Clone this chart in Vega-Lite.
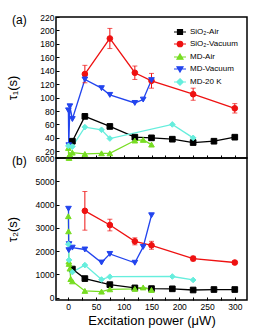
{
  "$schema": "https://vega.github.io/schema/vega-lite/v6.json",
  "padding": {"left": 5, "top": 12, "right": 5, "bottom": 5},
  "bounds": "flush",
  "spacing": 0,
  "config": {
    "font": "Liberation Sans",
    "view": {"stroke": "black", "strokeWidth": 1.5},
    "axis": {"domain": false, "grid": false, "tickColor": "black", "tickSize": -3, "tickWidth": 1, "labelPadding": 5, "labelOverlap": false, "labelFont": "Liberation Sans", "labelFontSize": 8.5, "labelColor": "black", "titleFont": "Liberation Sans", "titleFontSize": 13, "titleFontWeight": "normal", "titleColor": "black", "format": "d"},
    "title": {"font": "Liberation Sans", "fontSize": 12, "fontWeight": "normal", "anchor": "start", "offset": -14, "dx": 6, "color": "black"},
    "legend": {"labelFont": "Liberation Sans", "labelFontSize": 8, "labelColor": "black", "symbolStrokeWidth": 1.2, "symbolSize": 100, "rowPadding": 1, "padding": 0, "labelOffset": 4, "symbolOffset": 0}
  },
  "datasets": {
    "d": [
      {"p": "a", "s": "SiO₂-Air", "x": 7.5, "y": 35},
      {"p": "a", "s": "SiO₂-Air", "x": 30, "y": 72},
      {"p": "a", "s": "SiO₂-Air", "x": 75, "y": 57},
      {"p": "a", "s": "SiO₂-Air", "x": 120, "y": 41},
      {"p": "a", "s": "SiO₂-Air", "x": 150, "y": 40},
      {"p": "a", "s": "SiO₂-Air", "x": 187.5, "y": 38},
      {"p": "a", "s": "SiO₂-Air", "x": 225, "y": 33},
      {"p": "a", "s": "SiO₂-Air", "x": 262.5, "y": 35},
      {"p": "a", "s": "SiO₂-Air", "x": 300, "y": 41},
      {"p": "a", "s": "SiO₂-Vacuum", "x": 30, "y": 135, "lo": 122, "hi": 148},
      {"p": "a", "s": "SiO₂-Vacuum", "x": 75, "y": 188, "lo": 173, "hi": 203},
      {"p": "a", "s": "SiO₂-Vacuum", "x": 120, "y": 137, "lo": 127, "hi": 147},
      {"p": "a", "s": "SiO₂-Vacuum", "x": 150, "y": 125, "lo": 114, "hi": 136},
      {"p": "a", "s": "SiO₂-Vacuum", "x": 225, "y": 105, "lo": 96, "hi": 114},
      {"p": "a", "s": "SiO₂-Vacuum", "x": 300, "y": 84, "lo": 77, "hi": 91},
      {"p": "a", "s": "MD-Air", "x": 0.3, "y": 25},
      {"p": "a", "s": "MD-Air", "x": 0.8, "y": 12},
      {"p": "a", "s": "MD-Air", "x": 1.5, "y": 10},
      {"p": "a", "s": "MD-Air", "x": 3, "y": 15},
      {"p": "a", "s": "MD-Air", "x": 7.5, "y": 18},
      {"p": "a", "s": "MD-Air", "x": 30, "y": 16},
      {"p": "a", "s": "MD-Air", "x": 60, "y": 17},
      {"p": "a", "s": "MD-Air", "x": 75, "y": 17},
      {"p": "a", "s": "MD-Air", "x": 120, "y": 36},
      {"p": "a", "s": "MD-Air", "x": 135, "y": 37},
      {"p": "a", "s": "MD-Air", "x": 150, "y": 30},
      {"p": "a", "s": "MD-Vacuum", "x": 0.3, "y": 81},
      {"p": "a", "s": "MD-Vacuum", "x": 1, "y": 29},
      {"p": "a", "s": "MD-Vacuum", "x": 3, "y": 87},
      {"p": "a", "s": "MD-Vacuum", "x": 7.5, "y": 68},
      {"p": "a", "s": "MD-Vacuum", "x": 30, "y": 127},
      {"p": "a", "s": "MD-Vacuum", "x": 60, "y": 114},
      {"p": "a", "s": "MD-Vacuum", "x": 75, "y": 104},
      {"p": "a", "s": "MD-Vacuum", "x": 120, "y": 92},
      {"p": "a", "s": "MD-Vacuum", "x": 135, "y": 97},
      {"p": "a", "s": "MD-Vacuum", "x": 150, "y": 126},
      {"p": "a", "s": "MD-20 K", "x": 0.3, "y": 28},
      {"p": "a", "s": "MD-20 K", "x": 7.5, "y": 27},
      {"p": "a", "s": "MD-20 K", "x": 30, "y": 56},
      {"p": "a", "s": "MD-20 K", "x": 60, "y": 52},
      {"p": "a", "s": "MD-20 K", "x": 75, "y": 39},
      {"p": "a", "s": "MD-20 K", "x": 187.5, "y": 60},
      {"p": "a", "s": "MD-20 K", "x": 225, "y": 40},
      {"p": "b", "s": "SiO₂-Air", "x": 7.5, "y": 1230},
      {"p": "b", "s": "SiO₂-Air", "x": 30, "y": 820},
      {"p": "b", "s": "SiO₂-Air", "x": 75, "y": 560},
      {"p": "b", "s": "SiO₂-Air", "x": 120, "y": 420},
      {"p": "b", "s": "SiO₂-Air", "x": 150, "y": 390},
      {"p": "b", "s": "SiO₂-Air", "x": 187.5, "y": 380},
      {"p": "b", "s": "SiO₂-Air", "x": 225, "y": 330},
      {"p": "b", "s": "SiO₂-Air", "x": 262.5, "y": 350},
      {"p": "b", "s": "SiO₂-Air", "x": 300, "y": 350},
      {"p": "b", "s": "SiO₂-Vacuum", "x": 30, "y": 3730, "lo": 2900, "hi": 4560},
      {"p": "b", "s": "SiO₂-Vacuum", "x": 75, "y": 3120, "lo": 2870, "hi": 3370},
      {"p": "b", "s": "SiO₂-Vacuum", "x": 120, "y": 2420, "lo": 2270, "hi": 2570},
      {"p": "b", "s": "SiO₂-Vacuum", "x": 150, "y": 2250, "lo": 2080, "hi": 2420},
      {"p": "b", "s": "SiO₂-Vacuum", "x": 225, "y": 1680, "lo": 1580, "hi": 1780},
      {"p": "b", "s": "SiO₂-Vacuum", "x": 300, "y": 1510, "lo": 1450, "hi": 1570},
      {"p": "b", "s": "MD-Air", "x": 0.2, "y": 3500},
      {"p": "b", "s": "MD-Air", "x": 0.5, "y": 2850},
      {"p": "b", "s": "MD-Air", "x": 1, "y": 1550},
      {"p": "b", "s": "MD-Air", "x": 1.5, "y": 1450},
      {"p": "b", "s": "MD-Air", "x": 3, "y": 1250},
      {"p": "b", "s": "MD-Air", "x": 4.5, "y": 800},
      {"p": "b", "s": "MD-Air", "x": 7.5, "y": 700},
      {"p": "b", "s": "MD-Air", "x": 30, "y": 290},
      {"p": "b", "s": "MD-Air", "x": 60, "y": 260},
      {"p": "b", "s": "MD-Air", "x": 75, "y": 360},
      {"p": "b", "s": "MD-Air", "x": 120, "y": 380},
      {"p": "b", "s": "MD-Air", "x": 135, "y": 440},
      {"p": "b", "s": "MD-Air", "x": 150, "y": 330},
      {"p": "b", "s": "MD-Vacuum", "x": 0.5, "y": 3820},
      {"p": "b", "s": "MD-Vacuum", "x": 1, "y": 2040},
      {"p": "b", "s": "MD-Vacuum", "x": 1.5, "y": 2300},
      {"p": "b", "s": "MD-Vacuum", "x": 7.5, "y": 2150},
      {"p": "b", "s": "MD-Vacuum", "x": 30, "y": 2070},
      {"p": "b", "s": "MD-Vacuum", "x": 60, "y": 1510},
      {"p": "b", "s": "MD-Vacuum", "x": 75, "y": 1880},
      {"p": "b", "s": "MD-Vacuum", "x": 120, "y": 1500},
      {"p": "b", "s": "MD-Vacuum", "x": 135, "y": 2180},
      {"p": "b", "s": "MD-Vacuum", "x": 150, "y": 3540},
      {"p": "b", "s": "MD-20 K", "x": 0.3, "y": 2300},
      {"p": "b", "s": "MD-20 K", "x": 1.5, "y": 1620},
      {"p": "b", "s": "MD-20 K", "x": 7.5, "y": 1100},
      {"p": "b", "s": "MD-20 K", "x": 30, "y": 1400},
      {"p": "b", "s": "MD-20 K", "x": 60, "y": 780},
      {"p": "b", "s": "MD-20 K", "x": 75, "y": 900},
      {"p": "b", "s": "MD-20 K", "x": 187.5, "y": 910},
      {"p": "b", "s": "MD-20 K", "x": 225, "y": 760}
    ]
  },
  "data": {"name": "d"},
  "resolve": {"scale": {"stroke": "independent", "fill": "independent", "shape": "independent"}, "legend": {"stroke": "independent", "fill": "independent", "shape": "independent"}},
  "vconcat": [
    {
      "width": 191,
      "height": 141,
      "title": {"text": "(a)"},
      "transform": [{"filter": "datum.p === 'a'"}],
      "resolve": {"scale": {"stroke": "independent", "fill": "independent", "shape": "independent"}, "legend": {"stroke": "independent", "fill": "independent", "shape": "independent"}},
      "layer": [
        {
          "mark": {"type": "line", "strokeWidth": 1.3},
          "encoding": {
            "x": {"field": "x", "type": "quantitative", "scale": {"domain": [-22, 322], "nice": false, "zero": false}, "axis": {"values": [0, 25, 50, 75, 100, 125, 150, 175, 200, 225, 250, 275, 300], "labels": false, "title": null}},
            "y": {"field": "y", "type": "quantitative", "scale": {"domain": [10, 220], "nice": false, "zero": false}, "axis": {"values": [20, 40, 60, 80, 100, 120, 140, 160, 180, 200, 220], "labelOverlap": false, "labelBound": false, "titleX": -37}, "title": "τ₁(s)"},
            "stroke": {"field": "s", "type": "nominal", "scale": {"domain": ["SiO₂-Air", "SiO₂-Vacuum", "MD-Air", "MD-Vacuum", "MD-20 K"], "range": ["#000000", "#ee1111", "#77dd22", "#2244ee", "#66eedd"]}, "legend": null}
          }
        },
        {
          "transform": [{"filter": "isValid(datum.lo)"}],
          "mark": {"type": "errorbar", "ticks": true, "color": "#ee1111", "thickness": 1},
          "encoding": {
            "x": {"field": "x", "type": "quantitative", "axis": {"values": [0, 25, 50, 75, 100, 125, 150, 175, 200, 225, 250, 275, 300], "labels": false, "title": null}},
            "y": {"field": "lo", "type": "quantitative", "axis": {"values": [20, 40, 60, 80, 100, 120, 140, 160, 180, 200, 220], "labelOverlap": false, "labelBound": false, "titleX": -37}, "title": "τ₁(s)"},
            "y2": {"field": "hi"}
          }
        },
        {
          "mark": {"type": "point", "filled": true, "size": 32, "opacity": 1, "strokeWidth": 1},
          "encoding": {
            "x": {"field": "x", "type": "quantitative", "axis": {"values": [0, 25, 50, 75, 100, 125, 150, 175, 200, 225, 250, 275, 300], "labels": false, "title": null}},
            "y": {"field": "y", "type": "quantitative", "axis": {"values": [20, 40, 60, 80, 100, 120, 140, 160, 180, 200, 220], "labelOverlap": false, "labelBound": false, "titleX": -37}, "title": "τ₁(s)"},
            "fill": {"field": "s", "type": "nominal", "scale": {"domain": ["SiO₂-Air", "SiO₂-Vacuum", "MD-Air", "MD-Vacuum", "MD-20 K"], "range": ["#000000", "#ee1111", "#77dd22", "#2244ee", "#66eedd"]}, "legend": null},
            "stroke": {"field": "s", "type": "nominal", "scale": {"domain": ["SiO₂-Air", "SiO₂-Vacuum", "MD-Air", "MD-Vacuum", "MD-20 K"], "range": ["#000000", "#ee1111", "#77dd22", "#2244ee", "#66eedd"]}, "legend": null},
            "shape": {"field": "s", "type": "nominal", "scale": {"domain": ["SiO₂-Air", "SiO₂-Vacuum", "MD-Air", "MD-Vacuum", "MD-20 K"], "range": ["square", "circle", "triangle-up", "triangle-down", "diamond"]}, "legend": null}
          }
        },
        {
          "transform": [{"filter": "false"}],
          "mark": {"type": "point", "filled": true, "opacity": 1, "strokeWidth": 1.2},
          "encoding": {
            "x": {"field": "x", "type": "quantitative", "axis": {"values": [0, 25, 50, 75, 100, 125, 150, 175, 200, 225, 250, 275, 300], "labels": false, "title": null}},
            "y": {"field": "y", "type": "quantitative", "axis": {"values": [20, 40, 60, 80, 100, 120, 140, 160, 180, 200, 220], "labelOverlap": false, "labelBound": false, "titleX": -37}, "title": "τ₁(s)"},
            "fill": {"field": "s", "type": "nominal", "scale": {"domain": ["SiO₂-Air", "SiO₂-Vacuum", "MD-Air", "MD-Vacuum", "MD-20 K"], "range": ["#000000", "#ee1111", "#77dd22", "#2244ee", "#66eedd"]}, "legend": {"title": null, "orient": "top-right", "offset": 9}},
            "stroke": {"field": "s", "type": "nominal", "scale": {"domain": ["SiO₂-Air", "SiO₂-Vacuum", "MD-Air", "MD-Vacuum", "MD-20 K"], "range": ["#000000", "#ee1111", "#77dd22", "#2244ee", "#66eedd"]}, "legend": {"title": null, "orient": "top-right", "offset": 9}},
            "shape": {"field": "s", "type": "nominal", "scale": {"domain": ["SiO₂-Air", "SiO₂-Vacuum", "MD-Air", "MD-Vacuum", "MD-20 K"], "range": ["M-1.2,0H1.2M-0.5,-0.5H0.5V0.5H-0.5Z", "M-1.2,0H1.2M-0.55,0A0.55,0.55 0 1,0 0.55,0A0.55,0.55 0 1,0 -0.55,0Z", "M-1.2,0H1.2M0,-0.6L0.6,0.45H-0.6Z", "M-1.2,0H1.2M0,0.6L0.6,-0.45H-0.6Z", "M-1.2,0H1.2M0,-0.65L0.65,0L0,0.65L-0.65,0Z"]}, "legend": {"title": null, "orient": "top-right", "offset": 9}}
          }
        }
      ]
    },
    {
      "width": 191,
      "height": 142,
      "title": {"text": "(b)"},
      "transform": [{"filter": "datum.p === 'b'"}],
      "layer": [
        {
          "mark": {"type": "line", "strokeWidth": 1.3},
          "encoding": {
            "x": {"field": "x", "type": "quantitative", "scale": {"domain": [-22, 322], "nice": false, "zero": false}, "axis": {"values": [0, 25, 50, 75, 100, 125, 150, 175, 200, 225, 250, 275, 300], "labelOverlap": false, "labelExpr": "datum.value % 50 === 0 ? datum.label : ''", "titlePadding": 4}, "title": "Excitation power (μW)"},
            "y": {"field": "y", "type": "quantitative", "scale": {"domain": [-100, 6000], "nice": false, "zero": false}, "axis": {"values": [0, 1000, 2000, 3000, 4000, 5000, 6000], "labelOverlap": false, "labelBound": false, "titleX": -37}, "title": "τ₂(s)"},
            "stroke": {"field": "s", "type": "nominal", "scale": {"domain": ["SiO₂-Air", "SiO₂-Vacuum", "MD-Air", "MD-Vacuum", "MD-20 K"], "range": ["#000000", "#ee1111", "#77dd22", "#2244ee", "#66eedd"]}, "legend": null}
          }
        },
        {
          "transform": [{"filter": "isValid(datum.lo)"}],
          "mark": {"type": "errorbar", "ticks": true, "color": "#ee1111", "thickness": 1},
          "encoding": {
            "x": {"field": "x", "type": "quantitative", "axis": {"values": [0, 25, 50, 75, 100, 125, 150, 175, 200, 225, 250, 275, 300], "labelOverlap": false, "labelExpr": "datum.value % 50 === 0 ? datum.label : ''", "titlePadding": 4}, "title": "Excitation power (μW)"},
            "y": {"field": "lo", "type": "quantitative", "axis": {"values": [0, 1000, 2000, 3000, 4000, 5000, 6000], "labelOverlap": false, "labelBound": false, "titleX": -37}, "title": "τ₂(s)"},
            "y2": {"field": "hi"}
          }
        },
        {
          "mark": {"type": "point", "filled": true, "size": 32, "opacity": 1, "strokeWidth": 1},
          "encoding": {
            "x": {"field": "x", "type": "quantitative", "axis": {"values": [0, 25, 50, 75, 100, 125, 150, 175, 200, 225, 250, 275, 300], "labelOverlap": false, "labelExpr": "datum.value % 50 === 0 ? datum.label : ''", "titlePadding": 4}, "title": "Excitation power (μW)"},
            "y": {"field": "y", "type": "quantitative", "axis": {"values": [0, 1000, 2000, 3000, 4000, 5000, 6000], "labelOverlap": false, "labelBound": false, "titleX": -37}, "title": "τ₂(s)"},
            "fill": {"field": "s", "type": "nominal", "scale": {"domain": ["SiO₂-Air", "SiO₂-Vacuum", "MD-Air", "MD-Vacuum", "MD-20 K"], "range": ["#000000", "#ee1111", "#77dd22", "#2244ee", "#66eedd"]}, "legend": null},
            "stroke": {"field": "s", "type": "nominal", "legend": null},
            "shape": {"field": "s", "type": "nominal", "scale": {"domain": ["SiO₂-Air", "SiO₂-Vacuum", "MD-Air", "MD-Vacuum", "MD-20 K"], "range": ["square", "circle", "triangle-up", "triangle-down", "diamond"]}, "legend": null}
          }
        }
      ]
    }
  ]
}
